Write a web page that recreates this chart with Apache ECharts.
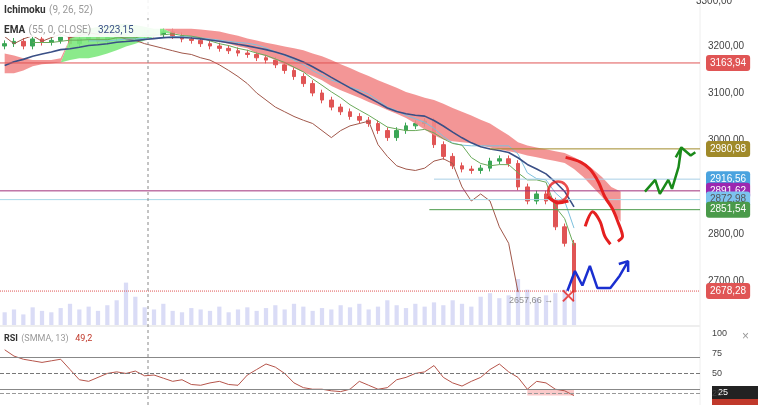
<!DOCTYPE html>
<html><head><meta charset="utf-8">
<script src="https://cdn.jsdelivr.net/npm/echarts@6/dist/echarts.min.js"></script>
<style>html,body{margin:0;padding:0;background:#fff}#c{width:758px;height:405px}</style>
</head><body><div id="c"></div>
<script>
const closes=[3205,3210,3200,3215,3208,3212,3220,3205,3215,3222,3210,3218,3225,3218,3222,3228,3225,3230,3222,3215,3212,3205,3200,3195,3190,3185,3182,3175,3170,3160,3148,3135,3120,3100,3085,3070,3060,3050,3042,3035,3020,3005,3020,3030,3035,3040,2990,2965,2945,2938,2935,2940,2955,2960,2950,2900,2870,2885,2870,2815,2780,2676];
const lastLow=2657.66;
const cloudUpper=[3184,3180,3174,3170,3170,3170,3174,3216,3233,3237,3241,3243,3247,3247,3245,3241,3237,3237,3237,3237,3237,3235,3233,3231,3226,3222,3216,3212,3207,3203,3199,3195,3191,3184,3178,3170,3161,3153,3144,3136,3127,3119,3111,3102,3096,3090,3085,3077,3068,3060,3052,3043,3035,3022,3010,2995,2988,2984,2980,2976,2972,2963,2953,2938,2921,2900,2890];
const cloudLower=[3142,3142,3148,3157,3161,3163,3165,3170,3174,3174,3178,3184,3191,3199,3205,3212,3220,3228,3228,3224,3220,3216,3212,3209,3205,3199,3195,3184,3178,3170,3161,3153,3144,3136,3127,3115,3106,3098,3090,3081,3073,3064,3056,3047,3035,3022,3010,3001,2997,2995,2993,2988,2984,2980,2976,2972,2967,2963,2959,2955,2951,2938,2921,2900,2879,2854,2826];
const greenCloudRange=[7,17];
const volumes=[18,22,15,25,20,18,24,30,22,26,20,28,35,60,40,25,22,30,20,18,24,22,20,26,18,22,25,20,24,28,22,30,26,20,24,22,28,25,30,22,26,35,28,24,30,26,32,28,35,30,26,40,45,38,42,65,50,38,42,45,50,45];
const rsi=[80,72,68,66,64,66,68,55,42,40,45,50,52,50,53,47,48,44,40,42,36,35,38,40,36,35,48,55,62,58,50,38,32,30,30,28,27,30,40,35,30,32,42,45,50,52,60,45,38,34,40,45,55,62,52,45,30,40,38,30,28,22];
const levels=[
 {v:3163.94,c:'#e05555',from:-0.5,type:'solid',tc:'#fff'},
 {v:2980.98,c:'#a08a2a',from:52,type:'solid',tc:'#fff'},
 {v:2916.56,c:'#a8cfe6',from:46,type:'solid',tc:'#fff',bg:'#4aa3df'},
 {v:2891.62,c:'#a0307a',from:-0.5,type:'solid',tc:'#fff',bg:'#9c27b0'},
 {v:2872.98,c:'#a8d8e8',from:-0.5,type:'solid',tc:'#555',bg:'#7cc3ef'},
 {v:2851.54,c:'#4a9a4a',from:45.5,type:'solid',tc:'#fff'},
 {v:2678.28,c:'#e05555',from:-0.5,type:'dotted',tc:'#fff'}];
const redMarks=[
 [[60.1,2963],[61.7,2953],[62.7,2938],[63.6,2911],[64.3,2879],[65.1,2854],[65.7,2826],[66.2,2795],[65.7,2784]],
 [[62.2,2816],[63,2847],[63.8,2826],[64.3,2795],[64.9,2778]],
 [[58.2,2879],[59.3,2866],[60.4,2870]]];
const blueMark=[[60.3,2679],[61.1,2721],[61.9,2690],[62.7,2732],[63.5,2685],[64.9,2685],[65.9,2711],[66.8,2742],[65.8,2736],[66.8,2742],[66.8,2719]];
const greenMark=[[68.6,2890],[69.7,2915],[70.2,2885],[71.1,2915],[71.5,2896],[72.2,2942],[72.5,2984],[71.9,2963],[72.5,2984],[73.5,2967],[74,2974]];
const circleMark=[59.3,2890];
const crossMark=[60.4,2668];
const priceTicks=[2700,2800,2900,3000,3100,3200];
const rsiTicks=[25,50,75,100];

const N=75;
const cats=Array.from({length:N},(_,i)=>i);
const fmt=v=>v.toFixed(2).replace('.',',');
const ohlc=closes.map((c,i)=>{const o=i?closes[i-1]:c-5;const hi=Math.max(o,c)+7;const lo=i===closes.length-1?lastLow:Math.min(o,c)-7;return [o,c,lo,hi];});
function mid(p){return closes.map((_,i)=>{if(i<p-1)return null;let h=-1e9,l=1e9;for(let k=i-p+1;k<=i;k++){h=Math.max(h,ohlc[k][3]);l=Math.min(l,ohlc[k][2]);}return (h+l)/2;});}
const tenkan=mid(4),kijun=mid(10);
let e=3150;const ema=closes.map(c=>(e=e+(c-e)*2/13));
const chikou=closes.map((_,i)=>i+6<closes.length?closes[i+6]:null);
const base=cloudLower,gband=cloudUpper.map((u,i)=>i>=greenCloudRange[0]&&i<=greenCloudRange[1]?u-cloudLower[i]:0),rband=cloudUpper.map((u,i)=>i>=greenCloudRange[0]&&i<=greenCloudRange[1]?0:u-cloudLower[i]);

const ch=echarts.init(document.getElementById('c'));
const lvlSeries=levels.map(l=>({type:'line',xAxisIndex:1,yAxisIndex:0,data:[[l.from,l.v],[74.5,l.v]],symbol:'none',z:3,
  lineStyle:{color:l.c,type:l.type,width:1},
  endLabel:{show:true,formatter:fmt(l.v),backgroundColor:l.bg||l.c,color:l.tc,padding:[3,4],borderRadius:3,fontSize:10,distance:6}}));
ch.setOption({
 animation:false,
 grid:[{left:0,right:58,top:0,height:325},{left:0,right:58,top:334,bottom:0}],
 xAxis:[
  {type:'category',data:cats,gridIndex:0,show:false,boundaryGap:true},
  {type:'value',gridIndex:0,min:-0.5,max:74.5,show:false},
  {type:'category',data:cats,gridIndex:1,show:false}],
 yAxis:[
  {type:'value',gridIndex:0,position:'right',min:2606,max:3298,axisLine:{show:false},axisTick:{show:false},splitLine:{show:false},
   axisLabel:{customValues:priceTicks,formatter:v=>fmt(v),color:'#444',fontSize:10,margin:8}},
  {type:'value',gridIndex:0,min:0,max:460,show:false},
  {type:'value',gridIndex:1,position:'right',min:10,max:100,axisLine:{show:false},axisTick:{show:false},splitLine:{show:false},
   axisLabel:{customValues:rsiTicks,color:'#444',fontSize:9,margin:12}}],
 series:[
  {type:'bar',xAxisIndex:0,yAxisIndex:1,data:volumes,barWidth:'45%',itemStyle:{color:'#d3d6f5',opacity:0.85}},
  {type:'line',xAxisIndex:0,yAxisIndex:0,data:base,stack:'cl',symbol:'none',lineStyle:{width:0},areaStyle:{opacity:0}},
  {type:'line',xAxisIndex:0,yAxisIndex:0,data:gband,stack:'cl',symbol:'none',lineStyle:{width:0},areaStyle:{color:'#7ee87e',opacity:0.9}},
  {type:'line',xAxisIndex:0,yAxisIndex:0,data:rband,stack:'cl',symbol:'none',lineStyle:{width:0},areaStyle:{color:'#f28b8b',opacity:0.9}},
  {type:'line',xAxisIndex:0,yAxisIndex:0,data:chikou,symbol:'none',lineStyle:{color:'#a0574a',width:1}},
  {type:'line',xAxisIndex:0,yAxisIndex:0,data:kijun,symbol:'none',lineStyle:{color:'#7cc0dd',width:1}},
  {type:'line',xAxisIndex:0,yAxisIndex:0,data:tenkan,symbol:'none',lineStyle:{color:'#6aaa5a',width:1}},
  {type:'line',xAxisIndex:0,yAxisIndex:0,data:ema,symbol:'none',lineStyle:{color:'#3a4f86',width:1.6}},
  {type:'candlestick',xAxisIndex:0,yAxisIndex:0,data:ohlc,barWidth:'45%',itemStyle:{color:'#3aa655',color0:'#e05555',borderColor:'#3aa655',borderColor0:'#e05555'}},
  ...lvlSeries,
  ...redMarks.map(m=>({type:'line',xAxisIndex:1,yAxisIndex:0,data:m,symbol:'none',smooth:0.3,z:5,lineStyle:{color:'#e52020',width:3}})),
  {type:'line',xAxisIndex:1,yAxisIndex:0,data:blueMark,symbol:'none',z:5,lineStyle:{color:'#1a2fd0',width:2.5}},
  {type:'line',xAxisIndex:1,yAxisIndex:0,data:greenMark,symbol:'none',z:5,lineStyle:{color:'#1a8a1a',width:2.5}},
  {type:'scatter',xAxisIndex:1,yAxisIndex:0,data:[circleMark],symbol:'circle',symbolSize:20,z:5,itemStyle:{color:'transparent',borderColor:'#e52020',borderWidth:2.5}},
  {type:'scatter',xAxisIndex:1,yAxisIndex:0,data:[crossMark],symbol:'path://M0,0L10,10M10,0L0,10',symbolSize:11,z:5,itemStyle:{color:'none',borderColor:'#e52020',borderWidth:2}},
  {type:'scatter',xAxisIndex:1,yAxisIndex:0,data:[[59.3,lastLow]],symbolSize:0,label:{show:true,position:'left',formatter:fmt(lastLow)+' →',color:'#777',fontSize:9}},
  {type:'line',xAxisIndex:2,yAxisIndex:2,data:rsi,symbol:'none',lineStyle:{color:'#b5544a',width:1},
   markLine:{symbol:'none',silent:true,label:{show:false},data:[{yAxis:70,lineStyle:{color:'#888',type:'solid',width:1}},{yAxis:30,lineStyle:{color:'#888',type:'solid',width:1}},{yAxis:50,lineStyle:{color:'#777',type:'dashed',width:1}},{yAxis:25,lineStyle:{color:'#999',type:'dashed',width:1}}]},
   markArea:{silent:true,itemStyle:{color:'rgba(240,100,100,0.35)'},data:[[{xAxis:56,yAxis:22},{xAxis:61,yAxis:30}]]}}
 ],
 graphic:[
  {type:'line',z:50,shape:{x1:148,y1:0,x2:148,y2:405},style:{stroke:'#888',lineDash:[3,3],lineWidth:1}},
  {type:'line',shape:{x1:0,y1:326,x2:700,y2:326},style:{stroke:'#ddd',lineWidth:1}},
  {type:'line',shape:{x1:700,y1:0,x2:700,y2:405},style:{stroke:'#eee',lineWidth:1}},
  {type:'text',left:758-62,top:-4,z:100,style:{text:'3300,00',fill:'#444',fontSize:10}},
  {type:'rect',z:100,shape:{x:2,y:0,width:158,height:17},style:{fill:'rgba(255,255,255,0.9)'}},
  {type:'text',z:101,left:4,top:4,style:{rich:{a:{fill:'#333',fontSize:10,fontWeight:'bold',fontFamily:'Roboto'},b:{fill:'#999',fontSize:10,fontFamily:'Roboto'}},text:'{a|Ichimoku} {b|(9, 26, 52)}'}},
  {type:'rect',z:100,shape:{x:2,y:20,width:158,height:17},style:{fill:'rgba(255,255,255,0.9)'}},
  {type:'text',z:101,left:4,top:24,style:{rich:{a:{fill:'#333',fontSize:10,fontWeight:'bold',fontFamily:'Roboto'},b:{fill:'#999',fontSize:10,fontFamily:'Roboto'},c:{fill:'#3a4f86',fontSize:10,fontFamily:'Roboto'}},text:'{a|EMA} {b|(55, 0, CLOSE)}  {c|3223,15}'}},
  {type:'text',z:101,left:4,top:333,style:{rich:{a:{fill:'#333',fontSize:9,fontWeight:'bold',fontFamily:'Roboto'},b:{fill:'#999',fontSize:9,fontFamily:'Roboto'},c:{fill:'#c0392b',fontSize:9,fontFamily:'Roboto'}},text:'{a|RSI} {b|(SMMA, 13)}  {c|49,2}'}},
  {type:'rect',shape:{x:712,y:386,width:46,height:13},style:{fill:'#222'}},
  {type:'text',left:718,top:388,style:{text:'25',fill:'#fff',fontSize:9}},
  {type:'rect',shape:{x:712,y:399,width:46,height:6},style:{fill:'#c0392b'}},
  {type:'text',left:742,top:331,style:{text:'×',fill:'#999',fontSize:12}}
 ]
});
</script></body></html>
